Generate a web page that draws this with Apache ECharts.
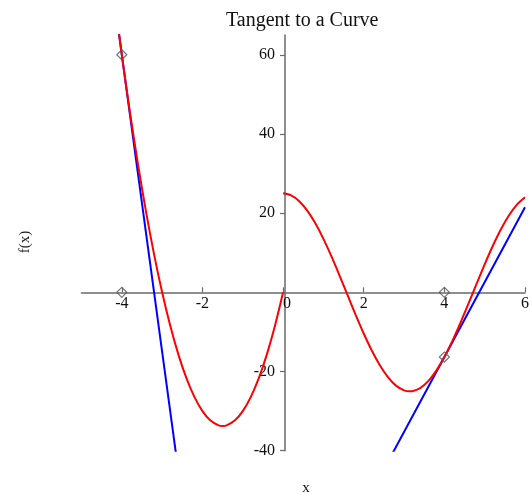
<!DOCTYPE html>
<html>
<head>
<meta charset="utf-8">
<title>Tangent to a Curve</title>
<script src="https://cdn.jsdelivr.net/npm/echarts@6/dist/echarts.min.js"></script>
<style>
  html, body { margin: 0; padding: 0; background: #fff; }
  #chart { width: 532px; height: 495px; }
</style>
</head>
<body>
<div id="chart"></div>
<script>
// Piece of the curve for x < 0
const leftX = [-4.2, -4.0, -3.8, -3.6, -3.4, -3.2, -3.0, -2.8, -2.6, -2.4, -2.2, -2.0,
               -1.8, -1.6, -1.5, -1.4, -1.2, -1.0, -0.8, -0.6, -0.4, -0.2, 0];
const leftY = [75.6, 60, 45.6, 32.4, 20.4, 9.6, 0, -8.4, -15.6, -21.6, -26.4, -30,
               -32.4, -33.6, -33.75, -33.6, -32.4, -30, -26.4, -21.6, -15.6, -8.4, 0];

// Piece of the curve for x >= 0
const rightX = [0, 0.2, 0.4, 0.6, 0.8, 1.0, 1.2, 1.4, 1.6, 1.8, 2.0, 2.2, 2.4, 2.6, 2.8, 3.0,
                3.14, 3.2, 3.4, 3.6, 3.8, 4.0, 4.2, 4.4, 4.6, 4.8, 5.0, 5.2, 5.4, 5.6, 5.8, 6.0];
const rightY = [25, 24.50, 23.03, 20.63, 17.42, 13.51, 9.06, 4.25, -0.73, -5.68, -10.40,
                -14.71, -18.43, -21.42, -23.56, -24.75, -25.0, -24.96, -24.17, -22.42, -19.77,
                -16.34, -12.26, -7.68, -2.80, 2.19, 7.09, 11.71, 15.87, 19.39, 22.14, 24.00];

// Tangent lines (end points)
const tangentLeftX = [-4.1, -2.6];
const tangentLeftY = [67.5, -45];
const tangentRightX = [2.6, 6.0];
const tangentRightY = [-42.83, 21.50];

// Marked points
const markX = [-4, -4, 4, 4];
const markY = [60, 0, 0, -16.34];

// Tick labels
const xTicks = [-4, -2, 0, 2, 4, 6];
const yTicks = [-40, -20, 20, 40, 60];

const zip = (xs, ys) => xs.map((x, i) => [x, ys[i]]);

const serif = '"Liberation Serif", "DejaVu Serif", serif';
const axisGray = '#6a6a6a';

// Plot area and axis ranges
const GRID = { left: 81.5, right: 2.8, top: 35, bottom: 44.3 };
const X_MIN = -5, X_MAX = 6, Y_MIN = -40, Y_MAX = 65;
const W = 532, H = 495;
const gridW = W - GRID.left - GRID.right;
const gridH = H - GRID.top - GRID.bottom;
// Axes cross at the origin: shift each axis from its grid edge to the zero line
const yAxisShift = -gridW * (0 - X_MIN) / (X_MAX - X_MIN);
const xAxisShift = -gridH * (0 - Y_MIN) / (Y_MAX - Y_MIN);

const chart = echarts.init(document.getElementById('chart'), null, { renderer: 'canvas' });

chart.setOption({
  animation: false,
  backgroundColor: '#ffffff',
  title: {
    text: 'Tangent to a Curve',
    left: 221,
    top: 6,
    textStyle: { fontFamily: serif, fontSize: 20, fontWeight: 'normal', color: '#111' }
  },
  graphic: [
    {
      type: 'text', x: 25, y: 242, rotation: Math.PI / 2,
      style: { text: 'f(x)', fontFamily: serif, fontSize: 15, fill: '#111',
               textAlign: 'center', textVerticalAlign: 'middle' }
    },
    {
      type: 'text', x: 306, y: 488,
      style: { text: 'x', fontFamily: serif, fontSize: 15, fill: '#111',
               textAlign: 'center', textVerticalAlign: 'middle' }
    }
  ],
  grid: Object.assign({ containLabel: false }, GRID),
  xAxis: {
    type: 'value', min: X_MIN, max: X_MAX, position: 'bottom', offset: xAxisShift,
    axisLine: { onZero: false, lineStyle: { color: axisGray, width: 1.5 } },
    axisTick: { show: true, inside: true, length: 5, customValues: xTicks,
                lineStyle: { color: axisGray, width: 1.2 } },
    axisLabel: {
      customValues: xTicks, margin: 3,
      fontFamily: serif, fontSize: 16, color: '#111',
      formatter: v => (v === 0 ? '{z|0}' : String(v)),
      rich: { z: { fontFamily: serif, fontSize: 16, color: '#111', padding: [0, 0, 0, 8] } }
    },
    splitLine: { show: false }
  },
  yAxis: {
    type: 'value', min: Y_MIN, max: Y_MAX, position: 'left', offset: yAxisShift,
    axisLine: { show: true, onZero: false, lineStyle: { color: axisGray, width: 1.5 } },
    axisTick: { show: true, length: 5, customValues: yTicks,
                lineStyle: { color: axisGray, width: 1.2 } },
    axisLabel: { customValues: yTicks, margin: 10, fontFamily: serif, fontSize: 16, color: '#111' },
    splitLine: { show: false }
  },
  series: [
    {
      name: 'curve x<0', type: 'line', data: zip(leftX, leftY), smooth: 0.3,
      showSymbol: false, clip: true, z: 3,
      lineStyle: { color: '#ff0000', width: 2 }
    },
    {
      name: 'curve x>=0', type: 'line', data: zip(rightX, rightY), smooth: 0.3,
      showSymbol: false, clip: true, z: 3,
      lineStyle: { color: '#ff0000', width: 2 }
    },
    {
      name: 'tangent at -4', type: 'line', data: zip(tangentLeftX, tangentLeftY),
      showSymbol: false, clip: true, z: 2,
      lineStyle: { color: '#0000ff', width: 2 }
    },
    {
      name: 'tangent at 4', type: 'line', data: zip(tangentRightX, tangentRightY),
      showSymbol: false, clip: true, z: 2,
      lineStyle: { color: '#0000ff', width: 2 }
    },
    {
      name: 'points', type: 'scatter', data: zip(markX, markY),
      symbol: 'diamond', symbolSize: [10, 10], z: 5,
      itemStyle: { color: 'rgba(255,255,255,0)', borderColor: '#555', borderWidth: 1.2 }
    }
  ]
});
</script>
</body>
</html>
